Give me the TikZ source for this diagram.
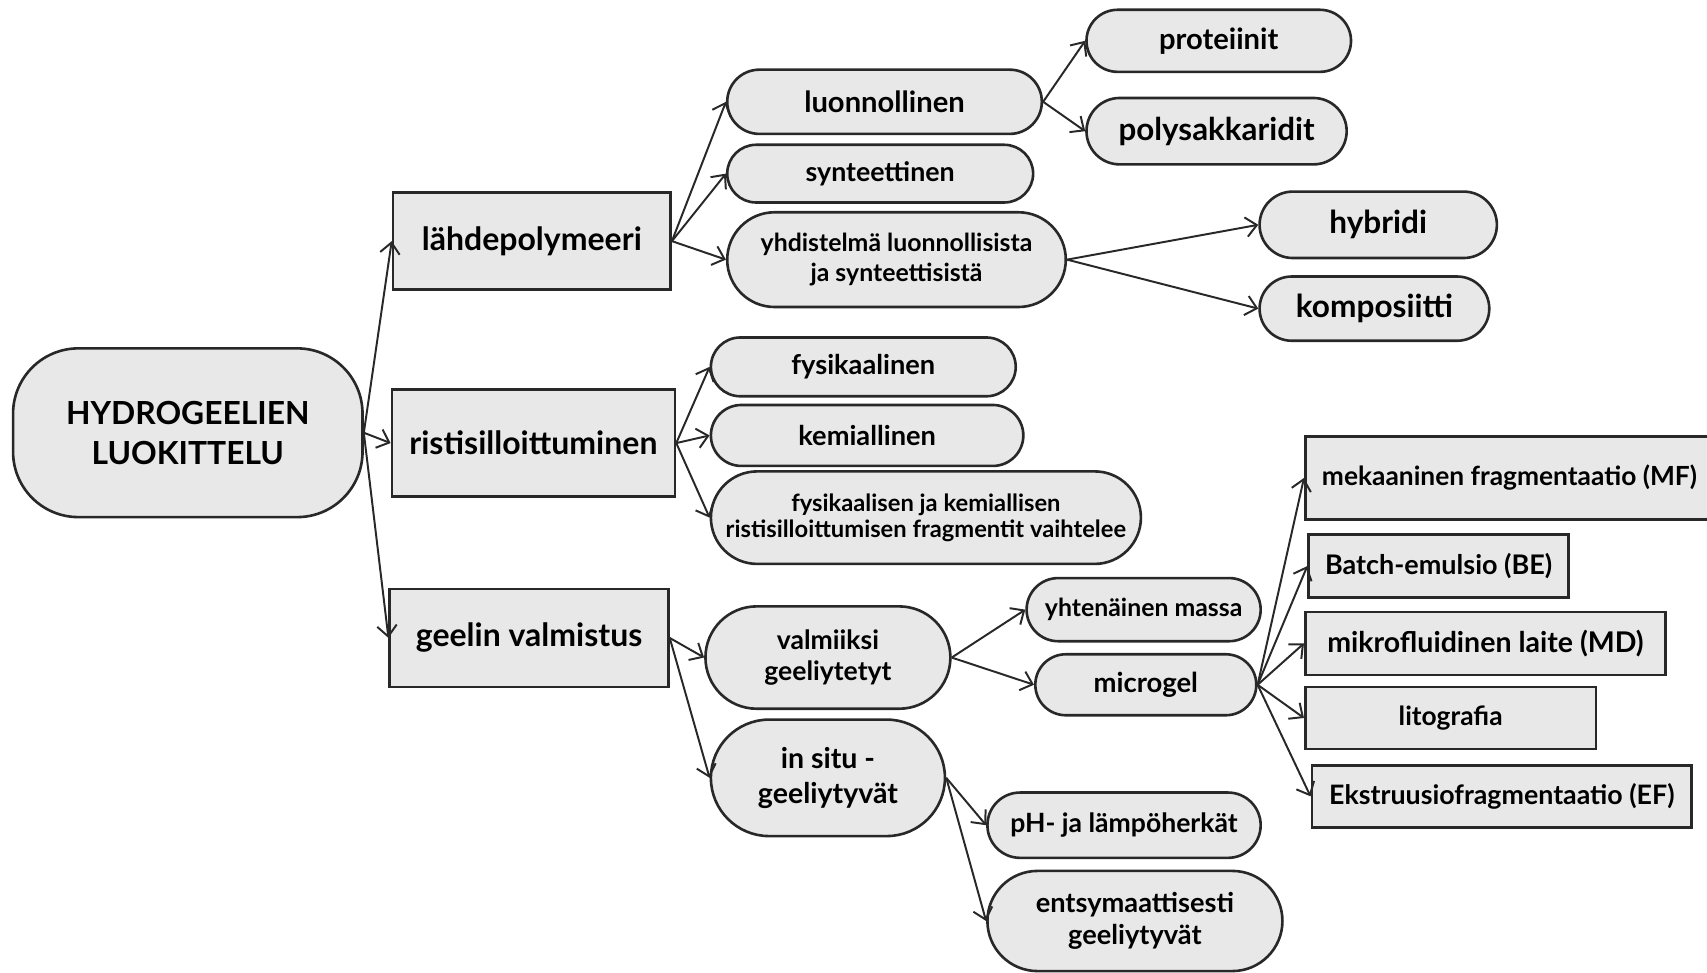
\documentclass[tikz,border=0pt]{standalone}
\usepackage{fontspec}
\setmainfont{Lato}
\usetikzlibrary{arrows.meta,shapes.misc}
\definecolor{boxfill}{RGB}{232,232,232}
\definecolor{edgecol}{RGB}{40,40,40}
\newcommand\fs[2]{\fontsize{#1}{#2}\selectfont\bfseries}
\newcommand\bx[8]{\node[#6, font={\fs#7}, minimum width={(#4-#2)*0.5pt}, minimum height={(#5-#3)*0.5pt}] (#1) at ({(#2+#4)/2},{(#3+#5)/2}) {#8};}
\begin{document}
\begin{tikzpicture}[x=0.5pt,y=-0.5pt,
  base/.style={draw=edgecol, fill=boxfill, line width=1.2pt, inner sep=0pt, align=center, text=black},
  sqbox/.style={base, rectangle},
  pill/.style={base, rounded rectangle},
  rootbox/.style={base, rectangle, rounded corners=30pt},
  arr/.style={draw=edgecol, line width=0.9pt, -{Straight Barb[length=5pt,width=9pt,line width=0.9pt]}}]
\useasboundingbox (0,0) rectangle (1568,893);
% level 0
\bx{root}{12}{320}{333}{475}{rootbox}{{14.6}{18.5}}{HYDROGEELIEN\\LUOKITTELU}
% level 1
\bx{lahde}{361}{177}{616}{266}{sqbox}{{14.7}{17}}{lähdepolymeeri}
\bx{risti}{360}{358}{620}{456}{sqbox}{{14.7}{17}}{ristisilloittuminen}
\bx{geelin}{358}{541}{614}{631}{sqbox}{{14.7}{17}}{geelin valmistus}
% level 2
\bx{luon}{668}{64}{957}{123}{pill}{{13.4}{15}}{luonnollinen}
\bx{synt}{668}{133}{949}{186}{pill}{{12.3}{14}}{synteettinen}
\bx{yhd}{668}{195}{979}{282}{pill}{{11.4}{13.5}}{yhdistelmä luonnollisista\\ja synteettisistä}
\bx{fys}{653}{310}{933}{364}{pill}{{12.5}{14}}{fysikaalinen}
\bx{kem}{653}{372}{940}{428}{pill}{{12.5}{14}}{kemiallinen}
\bx{fyskem}{653}{433}{1048}{518}{pill}{{10.9}{12}}{fysikaalisen ja kemiallisen\\ristisilloittumisen fragmentit vaihtelee}
\bx{valm}{648}{557}{873}{651}{pill}{{12.2}{14.5}}{valmiiksi\\geeliytetyt}
\bx{insitu}{653}{661}{868}{768}{pill}{{13.1}{16}}{in situ -\\geeliytyvät}
% level 3
\bx{prot}{998}{9}{1241}{66}{pill}{{13.4}{15}}{proteiinit}
\bx{poly}{998}{90}{1237}{151}{pill}{{14.4}{16}}{polysakkaridit}
\bx{hyb}{1157}{176}{1375}{237}{pill}{{14.5}{16}}{hybridi}
\bx{komp}{1157}{254}{1368}{313}{pill}{{14.5}{16}}{komposiitti}
\bx{yht}{943}{531}{1158}{589}{pill}{{11.4}{13}}{yhtenäinen massa}
\bx{micro}{951}{601}{1154}{657}{pill}{{12.6}{14}}{microgel}
\bx{ph}{907}{728}{1158}{788}{pill}{{12.2}{14}}{pH- ja lämpöherkät}
\bx{ents}{907}{800}{1178}{892}{pill}{{12.5}{14.5}}{entsymaattisesti\\geeliytyvät}
% level 4
\bx{mf}{1199}{401}{1574}{477}{sqbox}{{12.1}{14}}{mekaaninen fragmentaatio (MF)}
\bx{be}{1202}{491}{1441}{549}{sqbox}{{12.4}{14}}{Batch-emulsio (BE)}
\bx{md}{1199}{562}{1530}{620}{sqbox}{{13.1}{15}}{mikrofluidinen laite (MD)}
\bx{lito}{1199}{631}{1466}{688}{sqbox}{{12.1}{14}}{litografia}
\bx{ef}{1205}{703}{1554}{760}{sqbox}{{12.3}{14}}{Ekstruusiofragmentaatio (EF)}
% connectors
\foreach \t in {lahde,risti,geelin} \draw[arr] (root.east) -- (\t.west);
\foreach \t in {luon,synt,yhd} \draw[arr] (lahde.east) -- (\t.west);
\foreach \t in {prot,poly} \draw[arr] (luon.east) -- (\t.west);
\foreach \t in {hyb,komp} \draw[arr] (yhd.east) -- (\t.west);
\foreach \t in {fys,kem,fyskem} \draw[arr] (risti.east) -- (\t.west);
\foreach \t in {valm,insitu} \draw[arr] (geelin.east) -- (\t.west);
\foreach \t in {yht,micro} \draw[arr] (valm.east) -- (\t.west);
\foreach \t in {mf,be,md,lito,ef} \draw[arr] (micro.east) -- (\t.west);
\foreach \t in {ph,ents} \draw[arr] (insitu.east) -- (\t.west);
\end{tikzpicture}
\end{document}
